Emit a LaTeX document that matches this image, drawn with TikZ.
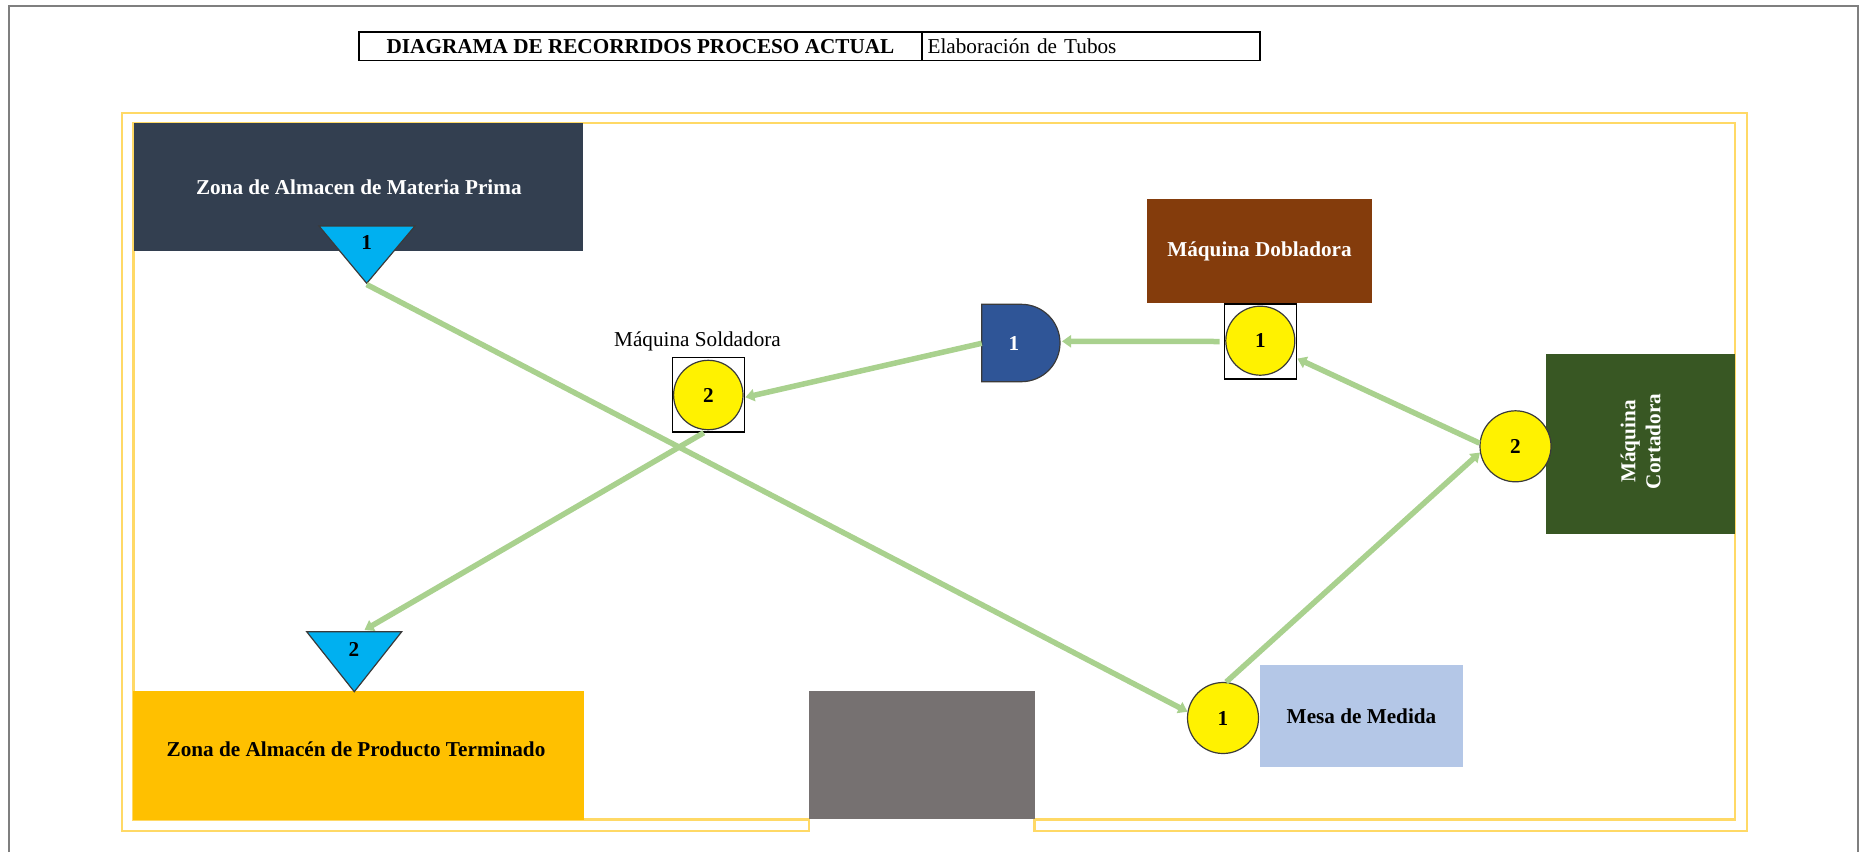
\documentclass[tikz,border=0pt]{standalone}
\usepackage{fontspec}
\setmainfont{Liberation Serif}
\usetikzlibrary{arrows.meta}

\definecolor{framegray}{HTML}{7F7F7F}
\definecolor{wallyellow}{HTML}{FFD966}
\definecolor{slatebox}{HTML}{333F50}
\definecolor{brownbox}{HTML}{843C0C}
\definecolor{greenbox}{HTML}{385723}
\definecolor{bluebox}{HTML}{B4C7E7}
\definecolor{goldbox}{HTML}{FFC000}
\definecolor{doorgray}{HTML}{767171}
\definecolor{delayblue}{HTML}{2F5597}
\definecolor{storecyan}{HTML}{00B0F0}
\definecolor{flowgreen}{HTML}{A9D18E}
\definecolor{symedge}{HTML}{3A3A3A}

\newcommand\lblsize{\fontsize{21.2}{25}\selectfont}

\begin{document}
\begin{tikzpicture}[x=1pt,y=-1pt,
  area/.style={draw=none, inner sep=0pt, align=center, font=\lblsize\bfseries},
  opcircle/.style={circle, draw=symedge, line width=1.2pt, fill=yellow,
    inner sep=0pt, font=\lblsize\bfseries},
  inspbox/.style={draw=black, line width=1.3pt, inner sep=0pt},
  storetri/.style={draw=symedge, line width=1.2pt, fill=storecyan, line join=miter},
  conn/.style={draw=flowgreen, line width=5.5pt,
    -{Triangle[length=9pt,width=12pt]}},
  numlbl/.style={inner sep=0pt, font=\lblsize\bfseries}]

\useasboundingbox (0,0) rectangle (1860,852);

% sheet frame
\draw[framegray, line width=2pt] (9,852) -- (9,5.7) -- (1858,5.7) -- (1858,852);

% title block
\node[draw=black, line width=1.3pt, minimum width=563pt, minimum height=28.5pt,
  inner sep=0pt, font=\lblsize\bfseries] (ttl) at (640.5,46.25)
  {DIAGRAMA DE RECORRIDOS PROCESO ACTUAL};
\node[draw=black, line width=1.3pt, minimum height=28.5pt, inner ysep=0pt,
  inner xsep=5.6pt, text width=326.8pt, align=left, font=\lblsize] (sub)
  at (1091,46.25) {Elaboración de Tubos};

% plant walls (double line, door gap at the bottom)
\draw[wallyellow, line width=2.2pt, line join=miter]
  (809,830.7) -- (121.7,830.7) -- (121.7,112.7) -- (1746.7,112.7)
  -- (1746.7,830.7) -- (1034.5,830.7) -- (1034.5,819.5) -- (1735,819.5)
  -- (1735,122.7) -- (133.5,122.7) -- (133.5,819.5) -- (809,819.5) -- cycle;

% work areas
\node[area, fill=slatebox, text=white, minimum width=449pt, minimum height=127.4pt]
  (mp) at (358.8,187) {Zona de Almacen de Materia Prima};
\node[area, fill=goldbox, minimum width=451pt, minimum height=129.3pt]
  (pt) at (358.5,755.3) {};
\node[inner sep=0pt, text=black, font=\lblsize\bfseries] (ptlbl) at (356,749)
  {Zona de Almacén de Producto Terminado};
\node[area, fill=brownbox, text=white, minimum width=225.6pt, minimum height=103.4pt]
  (dob) at (1259.5,251) {Máquina Dobladora};
\node[area, fill=greenbox, minimum width=189pt, minimum height=180pt] (cort) at (1640.5,444) {};
\node[inner sep=0pt, text=white, rotate=90, align=center, font=\lblsize\bfseries]
  (cortlbl) at (1640.5,441.5) {Máquina\\Cortadora};
\node[area, fill=bluebox, text=black, minimum width=203pt, minimum height=102pt]
  (mesa) at (1361.5,716) {Mesa de Medida};
\node[area, fill=doorgray, minimum width=225.5pt, minimum height=128.6pt] (door) at (921.75,755) {};

% storage symbols
\draw[storetri] (319,226) -- (415,226) -- (366.7,283.3) -- cycle;
\coordinate (t1apex) at (366.7,284.5);
\node[numlbl] (t1lbl) at (366.7,242) {1};
\draw[storetri] (306.7,631.7) -- (401.7,631.7) -- (354.3,691.7) -- cycle;
\coordinate (t2top) at (364.5,630);
\node[numlbl] (t2lbl) at (354,649) {2};

% delay symbol
\draw[draw=symedge, line width=1.2pt, fill=delayblue]
  (981.7,304.3) -- (1021.3,304.3) arc[start angle=-90, end angle=90, radius=38.7]
  -- (981.7,381.7) -- cycle;
\node[numlbl, text=white] (dlbl) at (1014,343) {1};
\coordinate (dleft) at (981.7,343.3);
\coordinate (dright) at (1062,341.3);

% combined operation/inspection symbols
\node[inspbox, minimum width=72.4pt, minimum height=75pt] (dobsq) at (1260.5,341.5) {};
\node[opcircle, minimum size=69pt] (dob1) at (1260.3,340.7) {1};
\node[inspbox, minimum width=72.4pt, minimum height=74.7pt] (soldsq) at (708.5,394.7) {};
\node[opcircle, minimum size=69.4pt] (sold2) at (708.3,395) {2};
\node[inner sep=0pt, font=\lblsize] (soldlbl) at (697.5,341) {Máquina Soldadora};

% operation symbols
\node[opcircle, minimum size=71pt] (cort2) at (1515.5,446.3) {2};
\node[opcircle, minimum size=71pt] (mesa1) at (1223,718) {1};

% material flow
\draw[conn] (t1apex) -- (mesa1.170);
\draw[conn] (mesa1.85) -- (cort2.190);
\draw[conn] (cort2.175) -- (dobsq);
\draw[conn] ([xshift=-4pt]dobsq.west) -- (dright);
\draw[conn] (dleft) -- (soldsq.-4);
\draw[conn] (soldsq.-97) -- (t2top);

\end{tikzpicture}
\end{document}
